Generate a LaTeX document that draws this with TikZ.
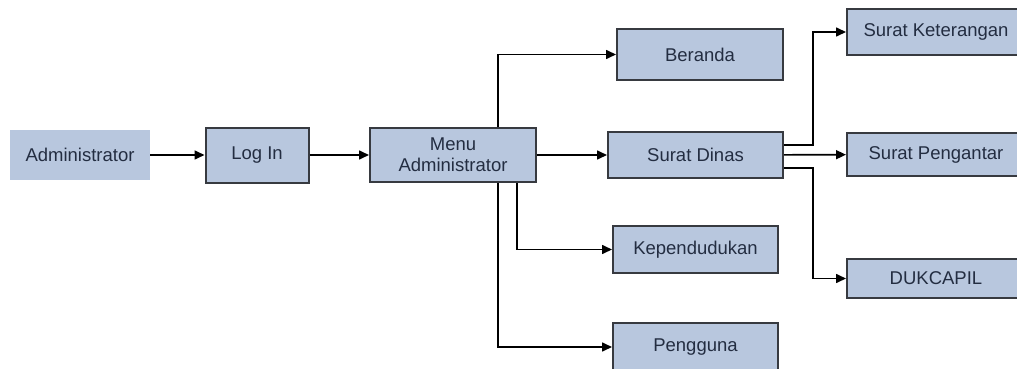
\documentclass[tikz,border=0pt]{standalone}
\usepackage{fontspec}
\setmainfont{Liberation Sans}
\usetikzlibrary{arrows.meta}
\definecolor{boxfill}{RGB}{184,199,222}
\definecolor{boxline}{RGB}{55,58,64}
\definecolor{boxtext}{RGB}{35,45,65}
\begin{document}
\begin{tikzpicture}[x=1pt,y=-1pt,
  label/.style={fill=boxfill, text=boxtext, font=\fontsize{18.5}{21}\selectfont,
    inner sep=0pt, align=center},
  box/.style={label, draw=boxline, line width=2pt},
  link/.style={line width=1.6pt, -{Triangle[length=10pt,width=9pt]}}
]
\useasboundingbox (0,0) rectangle (1017,369);
\clip (0,0) rectangle (1017,369);

% main flow
\node[label, minimum width=140pt, minimum height=50pt] (admin) at (80,155) {Administrator};
\node[box, minimum width=103pt, minimum height=55pt] (login) at (257,155) {Log In};
\node[box, minimum width=166pt, minimum height=54pt] (menu) at (453,155) {Menu\\Administrator};

% menu entries
\node[box, minimum width=166pt, minimum height=51pt] (beranda) at (700,54.5) {Beranda};
\node[box, minimum width=175pt, minimum height=46pt] (dinas) at (695.5,155) {Surat Dinas};
\node[box, minimum width=165pt, minimum height=47pt] (kepen) at (695.5,249.5) {Kependudukan};
\node[box, minimum width=165pt, minimum height=48pt] (pengguna) at (695.5,347) {Pengguna};

% letter types
\node[box, minimum width=178pt, minimum height=46pt] (keterangan) at (936,32) {Surat Keterangan};
\node[box, minimum width=178pt, minimum height=43pt] (pengantar) at (936,154.5) {Surat Pengantar};
\node[box, minimum width=178pt, minimum height=39pt] (dukcapil) at (936,278.5) {DUKCAPIL};

% connectors
\draw[link] (admin) -- (login);
\draw[link] (login) -- (menu);
\draw[link] ([xshift=45pt]menu.north) |- (beranda);
\draw[link] (menu) -- (dinas);
\draw[link] ([xshift=64pt]menu.south) |- (kepen);
\draw[link] ([xshift=45pt]menu.south) |- (pengguna);

\draw[link] ([yshift=10pt]dinas.east) -- ++(29,0) |- (keterangan);
\draw[link] (dinas) -- (pengantar);
\draw[link] ([yshift=-13pt]dinas.east) -- ++(29,0) |- (dukcapil);
\end{tikzpicture}
\end{document}
